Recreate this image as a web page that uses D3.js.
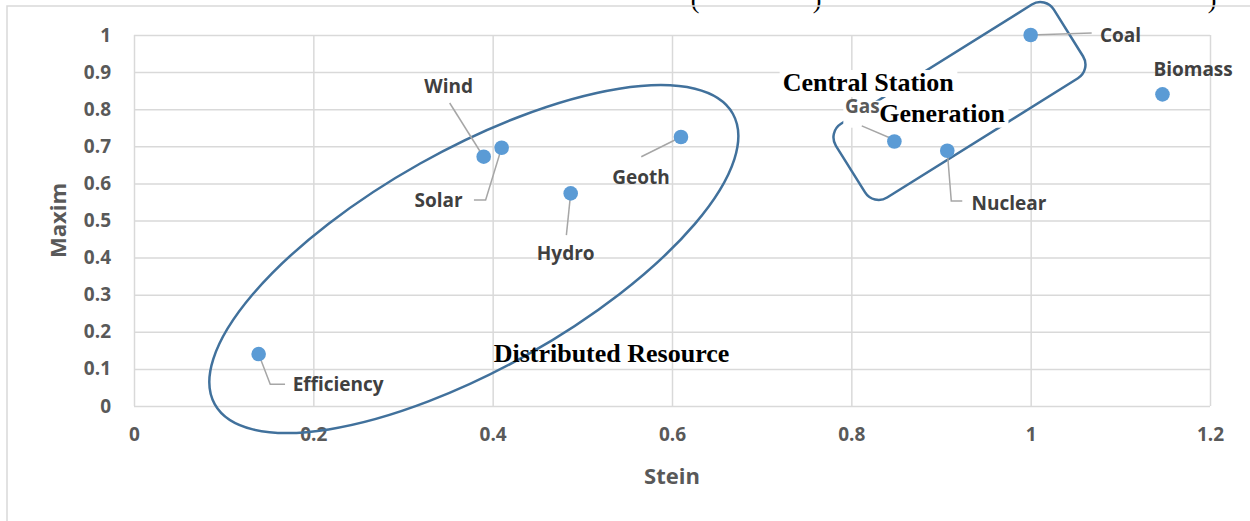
<!DOCTYPE html>
<html><head><meta charset="utf-8">
<script src="https://cdn.jsdelivr.net/npm/d3@7/dist/d3.min.js"></script>
<style>body{margin:0;background:#fff;overflow:hidden}</style>
</head><body><svg id="c" width="1250" height="521"></svg>
<script>
// ---------- data ----------
const names        = ["Efficiency","Wind","Solar","Hydro","Geoth","Gas","Nuclear","Coal","Biomass"];
const steinValues  = [0.139, 0.390, 0.410, 0.487, 0.610, 0.848, 0.907, 1.000, 1.147];
const maximValues  = [0.140, 0.672, 0.696, 0.573, 0.725, 0.713, 0.688, 1.000, 0.840];
const xTickValues  = [0, 0.2, 0.4, 0.6, 0.8, 1, 1.2];
const xTickLabels  = ["0","0.2","0.4","0.6","0.8","1","1.2"];
const yTickValues  = [0, 0.1, 0.2, 0.3, 0.4, 0.5, 0.6, 0.7, 0.8, 0.9, 1];
const yTickLabels  = ["0","0.1","0.2","0.3","0.4","0.5","0.6","0.7","0.8","0.9","1"];
const xTitle = "Stein";
const yTitle = "Maxim";
const groupNames = ["Distributed Resource", "Central Station", "Generation"];
const groupTextAt = [[0.4011, 0.1194], [0.7234, 0.849], [0.8312, 0.7663]]; // data coords
const ellipseCenter = [0.379, 0.396];   // data coords
const boxCenter     = [0.9206, 0.822];  // data coords

// ---------- layout / style ----------
const W = 1250, H = 521;
const plot = {left:134, right:1210, top:35, bottom:406};
const labelFont = "'Open Sans', 'DejaVu Sans', sans-serif";
const serif = "'Liberation Serif', 'Times New Roman', serif";
// label offsets relative to the point (px), leader polylines relative to the point
const labelLayout = {
  Efficiency:{dx:34,   dy:37,    anchor:"start",  leader:[[0,0],[11.6,30.3],[26.4,30.3]]},
  Wind:      {dx:-35,  dy:-63.7, anchor:"middle", leader:[[-2,-2.7],[-34,-53.7]]},
  Solar:     {dx:-63,  dy:59.3,  anchor:"middle", leader:[[0,0],[-16,52.3],[-27.7,52.3]]},
  Hydro:     {dx:-5,   dy:67,    anchor:"middle", leader:[[0,0],[-4.3,41.7]]},
  Geoth:     {dx:-40,  dy:47,    anchor:"middle", leader:[[0,0],[-39.7,19.7]]},
  Gas:       {dx:-32,  dy:-28,   anchor:"middle", leader:[[-3,-3],[-32.6,-15.6]], color:"#595959"},
  Nuclear:   {dx:24.3, dy:59.3,  anchor:"start",  leader:[[0,0],[4,50.3],[15,50.3]]},
  Coal:      {dx:69.3, dy:7,     anchor:"start",  leader:[[0,0],[61,-2]]},
  Biomass:   {dx:30.6, dy:-18,   anchor:"middle", leader:null}
};

const svg = d3.select("#c");
const x = d3.scaleLinear().domain([0,1.2]).range([plot.left, plot.right]);
const y = d3.scaleLinear().domain([0,1]).range([plot.bottom, plot.top]);

// cut-off text from the page above
const topFrag = svg.append("g").attr("font-family", serif).attr("font-size", 26).attr("fill","#000");
[["(",695],[")",817],[")",1212]].forEach(([t,px]) =>
  topFrag.append("text").attr("x",px).attr("y",7.5).attr("text-anchor","middle").text(t));

// chart area border
svg.append("rect").attr("x",7).attr("y",6).attr("width",W+20).attr("height",H+20)
  .attr("fill","none").attr("stroke","#D9D9D9").attr("stroke-width",1.5);

// axes + gridlines
const yAxis = d3.axisLeft(y).tickValues(yTickValues)
  .tickFormat((d,i)=>yTickLabels[i]).tickSize(-(plot.right-plot.left)).tickPadding(23);
const xAxis = d3.axisBottom(x).tickValues(xTickValues)
  .tickFormat((d,i)=>xTickLabels[i]).tickSize(-(plot.bottom-plot.top)).tickPadding(22);

const gy = svg.append("g").attr("transform",`translate(${plot.left},0)`).call(yAxis);
const gx = svg.append("g").attr("transform",`translate(0,${plot.bottom})`).call(xAxis);
[gx, gy].forEach(g => {
  g.select(".domain").remove();
  g.selectAll(".tick line").attr("stroke","#D9D9D9").attr("stroke-width",1.5);
  g.selectAll(".tick text").attr("font-family",labelFont).attr("font-weight","bold")
    .attr("font-size",19).attr("fill","#595959");
});

// axis titles
svg.append("text").attr("x",(plot.left+plot.right)/2).attr("y",484).attr("text-anchor","middle")
  .attr("font-family",labelFont).attr("font-weight","bold").attr("font-size",22)
  .attr("fill","#595959").text(xTitle);
svg.append("text").attr("transform",`translate(66,${(plot.top+plot.bottom)/2}) rotate(-90)`)
  .attr("text-anchor","middle").attr("font-family",labelFont).attr("font-weight","bold")
  .attr("font-size",22).attr("fill","#595959").text(yTitle);

// group outlines
const shapeStroke = "#41719C";
svg.append("ellipse")
  .attr("transform",`translate(${x(ellipseCenter[0])},${y(ellipseCenter[1])}) rotate(-29.3)`)
  .attr("rx",297).attr("ry",109.6)
  .attr("fill","none").attr("stroke",shapeStroke).attr("stroke-width",2.5);
svg.append("rect")
  .attr("transform",`translate(${x(boxCenter[0])},${y(boxCenter[1])}) rotate(-32)`)
  .attr("x",-128.5).attr("y",-43.5).attr("width",257).attr("height",87).attr("rx",16)
  .attr("fill","none").attr("stroke",shapeStroke).attr("stroke-width",2.5);

const pts = names.map((n,i)=>({name:n, sx:steinValues[i], my:maximValues[i]}));

// group text boxes (white fill) for central station
const gBoxLayer = svg.append("g");
const labelLayer = svg.append("g");
const groupLayer = svg.append("g");

// leaders
const line = d3.line();
labelLayer.selectAll("path.leader").data(pts.filter(p=>labelLayout[p.name].leader))
  .join("path").attr("class","leader")
  .attr("d", p => { const px=x(p.sx), py=y(p.my);
    return line(labelLayout[p.name].leader.map(([a,b])=>[px+a,py+b])); })
  .attr("fill","none").attr("stroke","#A6A6A6").attr("stroke-width",1.5);

// points
labelLayer.selectAll("circle").data(pts).join("circle")
  .attr("cx",p=>x(p.sx)).attr("cy",p=>y(p.my)).attr("r",7.3).attr("fill","#5B9BD5");

// data labels
labelLayer.selectAll("text.lbl").data(pts).join("text").attr("class","lbl")
  .attr("x",p=>x(p.sx)+labelLayout[p.name].dx)
  .attr("y",p=>y(p.my)+labelLayout[p.name].dy)
  .attr("text-anchor",p=>labelLayout[p.name].anchor)
  .attr("font-family",labelFont).attr("font-weight","bold").attr("font-size",19)
  .attr("fill",p=>labelLayout[p.name].color || "#404040")
  .text(p=>p.name);

// group annotations
const gTexts = groupNames.map((t,i)=> groupLayer.append("text")
  .attr("x",x(groupTextAt[i][0])).attr("y",y(groupTextAt[i][1]))
  .attr("font-family",serif).attr("font-weight","bold").attr("font-size",26)
  .attr("fill","#000").text(t));
// white backgrounds behind the "Central Station / Generation" lines
[[1,3,3],[2,36,3]].forEach(([i,padL,padR]) => {
  const b = gTexts[i].node().getBBox();
  gBoxLayer.append("rect").attr("x",b.x-padL).attr("y",b.y+2)
    .attr("width",b.width+padL+padR).attr("height",b.height-2).attr("fill","#fff");
});
</script></body></html>
